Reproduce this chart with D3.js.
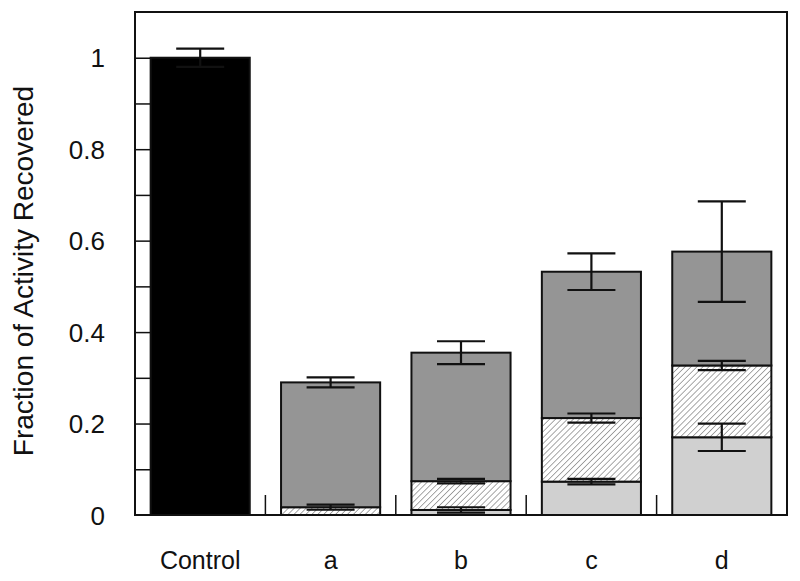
<!DOCTYPE html>
<html>
<head>
<meta charset="utf-8">
<script src="https://cdn.jsdelivr.net/npm/d3@7"></script>
<style>
  html, body { margin: 0; padding: 0; background: #fff; }
  svg { display: block; font-family: "Liberation Sans", Arial, sans-serif; }
</style>
</head>
<body>
<svg id="chart" width="800" height="581"></svg>
<script>
// ---- data ----
const categories = ["Control", "a", "b", "c", "d"];
const seriesKeys = ["control", "light", "hatched", "dark"];
const controlValues = [1.0, 0, 0, 0, 0];
const lightValues   = [0, 0, 0.011, 0.073, 0.170];
const hatchedValues = [0, 0.017, 0.063, 0.139, 0.157];
const darkValues    = [0, 0.273, 0.281, 0.320, 0.249];
const controlErr = [0.02, 0, 0, 0, 0];
const lightErr   = [0, 0, 0.006, 0.006, 0.030];
const hatchedErr = [0, 0.0055, 0.005, 0.010, 0.010];
const darkErr    = [0, 0.011, 0.025, 0.040, 0.110];
const yTicksMajor = [0, 0.2, 0.4, 0.6, 0.8, 1];
const yTicksMinor = [0.1, 0.2, 0.3, 0.4, 0.5, 0.6, 0.7, 0.8, 0.9, 1.0];
const yLabel = "Fraction of Activity Recovered";

const table = categories.map((c, i) => ({
  cat: c,
  control: controlValues[i], light: lightValues[i], hatched: hatchedValues[i], dark: darkValues[i],
  err: { control: controlErr[i], light: lightErr[i], hatched: hatchedErr[i], dark: darkErr[i] }
}));

// ---- layout ----
const L = 135, R = 787, T = 12, B = 515;
const svg = d3.select("#chart");

const x = d3.scaleBand().domain(categories).range([L, R]).paddingInner(0.24).paddingOuter(0.12);
const y = d3.scaleLinear().domain([0, 1.1]).range([B, T]);

const defs = svg.append("defs");
const pat = defs.append("pattern")
  .attr("id", "hatch").attr("patternUnits", "userSpaceOnUse")
  .attr("width", 4.2).attr("height", 4.2)
  .attr("patternTransform", "rotate(45)");
pat.append("rect").attr("width", 4.2).attr("height", 4.2).attr("fill", "#fff");
pat.append("line").attr("x1", 0).attr("y1", 0).attr("x2", 0).attr("y2", 4.2)
  .attr("stroke", "#6e6e6e").attr("stroke-width", 1.2);

const fills = { control: "#000", light: "#d0d0d0", hatched: "url(#hatch)", dark: "#959595" };

const stack = d3.stack().keys(seriesKeys);
const stacked = stack(table);

// bars
const g = svg.append("g");
stacked.forEach(s => {
  g.selectAll(null).data(s.filter(d => d[1] - d[0] > 0)).enter().append("rect")
    .attr("x", d => x(d.data.cat))
    .attr("width", x.bandwidth())
    .attr("y", d => y(d[1]))
    .attr("height", d => y(d[0]) - y(d[1]))
    .attr("fill", fills[s.key])
    .attr("stroke", "#111")
    .attr("stroke-width", 2);
});

// error bars
const capW = 48;
stacked.forEach(s => {
  const eb = g.selectAll(null).data(s.filter(d => d[1] - d[0] > 0 && d.data.err[s.key] > 0)).enter().append("g")
    .attr("stroke", "#111").attr("stroke-width", 2.2);
  const cx = d => x(d.data.cat) + x.bandwidth() / 2;
  eb.append("line")
    .attr("x1", cx).attr("x2", cx)
    .attr("y1", d => y(d[1] + d.data.err[s.key]))
    .attr("y2", d => y(d[1] - d.data.err[s.key]));
  eb.append("line")
    .attr("x1", d => cx(d) - capW / 2).attr("x2", d => cx(d) + capW / 2)
    .attr("y1", d => y(d[1] + d.data.err[s.key])).attr("y2", d => y(d[1] + d.data.err[s.key]));
  eb.append("line")
    .attr("x1", d => cx(d) - capW / 2).attr("x2", d => cx(d) + capW / 2)
    .attr("y1", d => y(d[1] - d.data.err[s.key])).attr("y2", d => y(d[1] - d.data.err[s.key]));
});

// frame
svg.append("rect").attr("x", L).attr("y", T).attr("width", R - L).attr("height", B - T)
  .attr("fill", "none").attr("stroke", "#111").attr("stroke-width", 2);

// y axis ticks (inside) via d3 axis
const yAxis = d3.axisLeft(y).tickValues(yTicksMinor).tickSize(-15).tickFormat("");
const ya = svg.append("g").attr("transform", `translate(${L},0)`).call(yAxis);
ya.select(".domain").remove();
ya.selectAll(".tick line").attr("stroke", "#111").attr("stroke-width", 1.5);

// y tick labels
svg.append("g").selectAll("text").data(yTicksMajor).enter().append("text")
  .attr("x", 105).attr("y", d => y(d) + 9.5)
  .attr("text-anchor", "end").attr("font-size", 26).attr("fill", "#111")
  .text(d => (d === 0 ? "0" : d === 1 ? "1" : d.toFixed(1)));

// separator ticks between categories at x-axis
const seps = categories.slice(1).map(c => x(c) - x.step() * x.paddingInner() / 2);
svg.append("g").selectAll("line").data(seps).enter().append("line")
  .attr("x1", d => d).attr("x2", d => d)
  .attr("y1", B).attr("y2", B - 20)
  .attr("stroke", "#111").attr("stroke-width", 1.5);

// x labels
svg.append("g").selectAll("text").data(categories).enter().append("text")
  .attr("x", d => x(d) + x.bandwidth() / 2).attr("y", 569)
  .attr("text-anchor", "middle").attr("font-size", 25).attr("fill", "#111")
  .text(d => d);

// y label
svg.append("text")
  .attr("transform", `translate(33,271) rotate(-90)`)
  .attr("text-anchor", "middle").attr("font-size", 28).attr("fill", "#111")
  .text(yLabel);
</script>
</body>
</html>
